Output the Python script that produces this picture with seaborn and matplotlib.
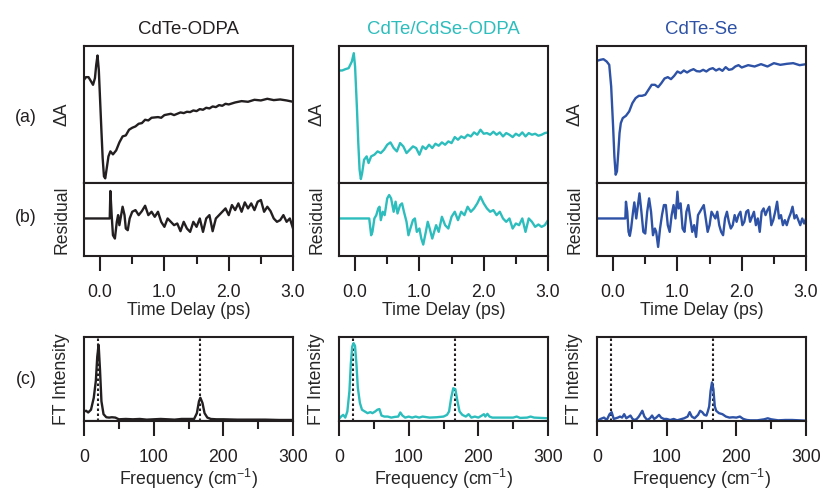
import numpy as np
import pandas as pd
import seaborn as sns
import matplotlib.pyplot as plt
from matplotlib.ticker import MultipleLocator

#############################################
# data (arbitrary units)
#############################################
names = ['CdTe-ODPA', 'CdTe/CdSe-ODPA', 'CdTe-Se']
colors = ['#231f20', '#2dbdbd', '#2d52a6']

# (a) transient absorption traces
t_a1 = [-0.25, -0.22, -0.18, -0.14, -0.11, -0.08, -0.06, -0.04, -0.02, 0.0, 0.02, 0.04, 0.06, 0.08, 0.1,
        0.13, 0.16, 0.2, 0.25, 0.3, 0.35, 0.4, 0.45, 0.5, 0.55, 0.6, 0.65, 0.7, 0.75, 0.8, 0.85, 0.9, 0.95,
        1.0, 1.05, 1.1, 1.15, 1.2, 1.25, 1.3, 1.35, 1.4, 1.45, 1.5, 1.55, 1.6, 1.65, 1.7, 1.75, 1.8, 1.85,
        1.9, 1.95, 2.0, 2.1, 2.2, 2.3, 2.4, 2.5, 2.6, 2.7, 2.8, 2.9, 3.0]
da_1 = [310, 318, 318, 305, 295, 315, 355, 383, 340, 250, 160, 75, 20, 14, 40,
        80, 95, 86, 98, 122, 140, 143, 160, 166, 170, 178, 180, 190, 188, 196, 197, 198, 196,
        204, 206, 208, 204, 208, 212, 210, 214, 213, 218, 216, 222, 220, 226, 224, 230, 228, 234,
        232, 238, 236, 242, 246, 244, 250, 248, 253, 249, 251, 248, 244]

t_a2 = [-0.25, -0.2, -0.15, -0.1, -0.05, -0.02, 0.0, 0.03, 0.05, 0.07, 0.09, 0.11, 0.14, 0.18, 0.21,
        0.25, 0.3, 0.35, 0.4, 0.45, 0.5, 0.55, 0.6, 0.65, 0.7, 0.75, 0.8, 0.85, 0.9, 0.95, 1.0, 1.05,
        1.1, 1.15, 1.2, 1.25, 1.3, 1.35, 1.4, 1.45, 1.5, 1.55, 1.6, 1.65, 1.7, 1.75, 1.8, 1.85, 1.9,
        1.95, 2.0, 2.05, 2.1, 2.15, 2.2, 2.25, 2.3, 2.35, 2.4, 2.45, 2.5, 2.55, 2.6, 2.65, 2.7, 2.75,
        2.8, 2.85, 2.9, 2.95, 3.0]
da_2 = [338, 338, 342, 345, 365, 390, 350, 220, 120, 40, 12, 30, 70, 80, 60,
        80, 85, 95, 90, 100, 115, 122, 105, 95, 120, 110, 90, 100, 110, 105, 85, 110,
        102, 115, 105, 118, 112, 122, 115, 125, 120, 138, 130, 140, 135, 145, 140, 152, 145,
        160, 148, 150, 145, 154, 145, 152, 140, 150, 145, 138, 148, 142, 152, 140, 150, 145,
        148, 142, 145, 150, 152]

t_a3 = [-0.25, -0.2, -0.15, -0.1, -0.06, -0.03, 0.0, 0.02, 0.04, 0.06, 0.08, 0.1, 0.12, 0.15, 0.2,
        0.25, 0.3, 0.35, 0.4, 0.45, 0.5, 0.55, 0.6, 0.65, 0.7, 0.75, 0.8, 0.85, 0.9, 0.95, 1.0, 1.05,
        1.1, 1.15, 1.2, 1.25, 1.3, 1.35, 1.4, 1.45, 1.5, 1.55, 1.6, 1.65, 1.7, 1.75, 1.8, 1.85, 1.9,
        1.95, 2.0, 2.1, 2.2, 2.3, 2.4, 2.5, 2.6, 2.7, 2.8, 2.9, 3.0]
da_3 = [367, 370, 372, 365, 355, 290, 170, 80, 25, 35, 90, 150, 180, 195, 202,
        215, 240, 255, 262, 262, 265, 280, 295, 295, 288, 300, 314, 318, 312, 322, 335, 330,
        338, 332, 338, 342, 336, 335, 340, 335, 342, 345, 338, 343, 337, 348, 340, 342, 350,
        354, 347, 354, 350, 357, 350, 360, 355, 358, 360, 354, 357]

# (b) fit residuals
t_b1 = [-0.25, 0.15, 0.16, 0.18, 0.2, 0.23, 0.26, 0.28, 0.3, 0.35, 0.38, 0.4, 0.43, 0.46, 0.5, 0.55,
        0.6, 0.65, 0.7, 0.75, 0.8, 0.85, 0.9, 0.95, 1.0, 1.05, 1.1, 1.15, 1.2, 1.25, 1.3, 1.35, 1.4,
        1.45, 1.5, 1.55, 1.6, 1.65, 1.7, 1.75, 1.8, 1.85, 1.9, 1.95, 2.0, 2.05, 2.1, 2.15, 2.2, 2.25,
        2.3, 2.35, 2.4, 2.45, 2.5, 2.55, 2.6, 2.65, 2.7, 2.75, 2.8, 2.85, 2.9, 2.95, 3.0]
res_1 = [0, 0, 82, 10, -50, -60, -10, 10, -20, 35, 10, -30, -35, 0, 20, 25,
         10, 22, 38, 10, 20, 5, 20, -10, -25, 0, -10, -20, -15, -38, -10, -30, -40,
         -10, -25, 0, -40, 0, 10, -38, 0, 10, 20, 30, 10, 40, 25, 45, 20, 48,
         30, 45, 25, 50, 55, 20, 35, 22, 0, -10, -5, 10, -10, 0, -30]

t_b2 = [-0.25, 0.22, 0.25, 0.27, 0.3, 0.33, 0.36, 0.38, 0.4, 0.43, 0.46, 0.5, 0.53, 0.56, 0.6, 0.63,
        0.66, 0.7, 0.73, 0.76, 0.8, 0.83, 0.86, 0.9, 0.93, 0.96, 1.0, 1.03, 1.06, 1.1, 1.13, 1.16,
        1.2, 1.23, 1.26, 1.3, 1.35, 1.4, 1.45, 1.5, 1.55, 1.6, 1.65, 1.7, 1.75, 1.8, 1.85, 1.9, 1.95,
        2.0, 2.05, 2.1, 2.15, 2.2, 2.25, 2.3, 2.35, 2.4, 2.45, 2.5, 2.55, 2.6, 2.65, 2.7, 2.75, 2.8,
        2.85, 2.9, 2.95, 3.0]
res_2 = [0, 0, -50, -40, 0, 10, 30, 35, -5, 20, 10, 60, 70, 60, 20, 50,
         15, 40, 45, 20, -10, -50, -30, -5, 0, -40, -30, -60, -78, -40, -10, -30,
         -60, -40, -20, -40, 5, -20, -30, 5, 20, -5, 20, 10, 35, 20, 30, 45, 65,
         45, 30, 20, 25, 10, 20, 0, -10, 0, -30, -15, -20, 0, -40, 0, -10, -25,
         -18, -25, -20, -5]

t_b3 = [-0.25, 0.19, 0.2, 0.22, 0.24, 0.26, 0.28, 0.31, 0.33, 0.36, 0.38, 0.41, 0.44, 0.47, 0.5,
        0.53, 0.56, 0.59, 0.62, 0.65, 0.67, 0.7, 0.73, 0.76, 0.79, 0.82, 0.85, 0.88, 0.91, 0.94,
        0.97, 1.0, 1.02, 1.05, 1.08, 1.11, 1.14, 1.17, 1.2, 1.23, 1.26, 1.29, 1.32, 1.35, 1.38,
        1.41, 1.44, 1.47, 1.5, 1.53, 1.56, 1.59, 1.62, 1.65, 1.68, 1.71, 1.74, 1.77, 1.8, 1.83,
        1.86, 1.89, 1.92, 1.95, 1.98, 2.01, 2.04, 2.07, 2.1, 2.13, 2.16, 2.19, 2.22, 2.25, 2.28,
        2.31, 2.34, 2.37, 2.4, 2.43, 2.46, 2.49, 2.52, 2.55, 2.58, 2.61, 2.64, 2.67, 2.7, 2.73,
        2.76, 2.79, 2.82, 2.85, 2.88, 2.91, 2.94, 2.97, 3.0]
res_3 = [0, 0, 50, 20, -40, -52, -30, 20, 48, 0, 30, 75, 20, -40, -45,
         20, 60, 20, -50, -30, -40, -85, -30, 10, 40, 40, -20, -40, 10, 40,
         0, 80, 30, 45, -30, -40, 20, 40, 0, -40, -20, -55, 10, 20, 30,
         40, 0, -40, -20, 20, 10, 0, 20, -20, -40, -50, 0, 20, -10, -30,
         -20, 10, -10, 10, 20, -20, -10, 20, 25, -10, 5, 20, -20, 0, -40,
         20, 30, 10, 25, 35, -20, -5, 20, 50, 0, 10, -20, -5, -20, 0,
         15, 35, 0, 10, -5, -20, 0, -15, 0]

# (c) Fourier transform of the residuals
f_c1 = [0, 3, 6, 10, 14, 17, 19, 21, 23, 25, 28, 32, 36, 40, 45, 50, 60, 70, 80, 90, 100, 110, 120,
        130, 140, 150, 158, 162, 165, 167, 170, 173, 177, 182, 190, 200, 220, 240, 260, 280, 300]
ft_1 = [28, 30, 25, 33, 68, 118, 188, 223, 148, 58, 20, 11, 10, 11, 10, 5, 6, 5, 6, 4, 5, 6, 5,
        4, 6, 6, 6, 23, 58, 68, 53, 23, 10, 6, 5, 5, 4, 4, 4, 3, 3]

f_c2 = [0, 3, 6, 9, 12, 15, 17, 19, 21, 23, 25, 27, 30, 33, 37, 41, 45, 48, 52, 55, 58, 61, 65, 70,
        75, 80, 85, 88, 91, 95, 100, 105, 110, 115, 120, 130, 140, 150, 155, 158, 161, 164, 167,
        170, 173, 177, 182, 186, 190, 195, 200, 205, 208, 210, 213, 216, 220, 230, 240, 250, 255,
        260, 270, 275, 280, 300]
ft_2 = [6, 13, 18, 10, 28, 88, 168, 218, 228, 220, 168, 98, 53, 33, 28, 23, 26, 23, 28, 33, 35, 16,
        13, 13, 10, 12, 13, 25, 16, 10, 13, 10, 13, 10, 13, 10, 11, 13, 18, 28, 68, 96, 93,
        58, 28, 18, 13, 20, 10, 13, 10, 16, 20, 13, 21, 13, 10, 10, 10, 10, 13,
        9, 10, 13, 10, 8]

f_c3 = [0, 5, 10, 14, 18, 21, 24, 27, 30, 33, 36, 39, 42, 45, 48, 51, 54, 57, 60, 63, 65, 68, 72,
        76, 79, 82, 85, 89, 92, 96, 100, 105, 110, 115, 120, 125, 130, 133, 136, 140, 145, 148,
        151, 154, 157, 159, 161, 163, 165, 167, 169, 171, 175, 180, 185, 190, 195, 200, 205, 210,
        215, 220, 230, 240, 245, 250, 260, 270, 280, 290, 300]
ft_3 = [0, 6, 10, 3, 20, 26, 6, 8, 10, 13, 10, 20, 8, 12, 16, 6, 3, 6, 13, 23, 30, 13, 3,
        8, 16, 6, 10, 18, 10, 6, 6, 3, 6, 2, 5, 8, 13, 26, 13, 8, 18, 30,
        26, 18, 16, 28, 43, 88, 113, 93, 43, 30, 23, 20, 13, 10, 11, 10, 13, 6,
        3, 2, 2, 5, 8, 5, 2, 3, 3, 2, 1]

# phonon frequencies marked with dotted lines (cm-1)
mode_freqs = [20, 166]

traces_a = [(t_a1, da_1), (t_a2, da_2), (t_a3, da_3)]
traces_b = [(t_b1, res_1), (t_b2, res_2), (t_b3, res_3)]
traces_c = [(f_c1, ft_1), (f_c2, ft_2), (f_c3, ft_3)]

#############################################
# style
#############################################
sns.set_style('ticks')
plt.rcParams['font.family'] = ['Liberation Sans', 'DejaVu Sans']
plt.rcParams['mathtext.fontset'] = 'custom'
plt.rcParams['mathtext.rm'] = 'Liberation Sans'
plt.rcParams['mathtext.it'] = 'Liberation Sans:italic'
plt.rcParams['axes.linewidth'] = 1.5
plt.rcParams['axes.edgecolor'] = '#231f20'
plt.rcParams['xtick.color'] = '#231f20'
fs = 12.7

fig = plt.figure(figsize=(8.22, 4.90), dpi=100)
lefts = [0.1022, 0.4124, 0.7263]
w = 0.2543


def style_ax(ax, ylabel):
    for s in ax.spines.values():
        s.set_visible(True)
        s.set_linewidth(1.5)
    ax.set_yticks([])
    ax.set_ylabel(ylabel, fontsize=fs, labelpad=10)
    ax.tick_params(axis='x', which='major', direction='out', length=11, width=1.5,
                   labelsize=fs, pad=9)
    ax.tick_params(axis='x', which='minor', direction='out', length=6, width=1.5)


for i in range(3):
    x0 = lefts[i]
    col = colors[i]
    ax_a = fig.add_axes([x0, 0.6265, w, 0.2806])
    ax_b = fig.add_axes([x0, 0.4776, w, 0.1490])
    ax_c = fig.add_axes([x0, 0.1408, w, 0.1714])

    # (a)
    df_a = pd.DataFrame({'t': traces_a[i][0], 'v': traces_a[i][1]})
    sns.lineplot(x='t', y='v', data=df_a, ax=ax_a, color=col, lw=1.7, estimator=None, sort=False)
    ax_a.set_xlim(-0.25, 3.0)
    ax_a.set_ylim(0, 413)
    style_ax(ax_a, '\u0394A')
    ax_a.set_xlabel('')
    ax_a.set_xticks([])
    ax_a.set_title(names[i], color=col, fontsize=13.4, pad=8)

    # (b)
    df_b = pd.DataFrame({'t': traces_b[i][0], 'v': traces_b[i][1]})
    sns.lineplot(x='t', y='v', data=df_b, ax=ax_b, color=col, lw=1.7, estimator=None, sort=False)
    ax_b.set_xlim(-0.25, 3.0)
    ax_b.set_ylim(-112, 106)
    style_ax(ax_b, 'Residual')
    ax_b.set_xticks([0, 1, 2, 3])
    ax_b.set_xticklabels(['0.0', '1.0', '2.0', '3.0'])
    ax_b.xaxis.set_minor_locator(MultipleLocator(0.5))
    ax_b.set_xlabel('Time Delay (ps)', fontsize=fs, labelpad=1)

    # (c)
    df_c = pd.DataFrame({'f': traces_c[i][0], 'v': traces_c[i][1]})
    for fq in mode_freqs:
        ax_c.axvline(fq, color='#231f20', ls=(0, (1.2, 1.2)), lw=1.5)
    if i == 0:
        ax_c.axhline(3, color='#888888', lw=0.9)
    sns.lineplot(x='f', y='v', data=df_c, ax=ax_c, color=col, lw=1.7, estimator=None, sort=False)
    ax_c.set_xlim(0, 300)
    ax_c.set_ylim(0, 246)
    style_ax(ax_c, 'FT Intensity')
    ax_c.set_xticks([0, 100, 200, 300])
    ax_c.xaxis.set_minor_locator(MultipleLocator(50))
    ax_c.set_xlabel('Frequency (cm$^{-1}$)', fontsize=fs, labelpad=1)

# panel letters
for lab, yy in [('(a)', 118), ('(b)', 217), ('(c)', 380)]:
    fig.text(26 / 822, 1 - yy / 490, lab, fontsize=fs, ha='center', va='center', color='#231f20')

plt.savefig('out.png', dpi=100)
